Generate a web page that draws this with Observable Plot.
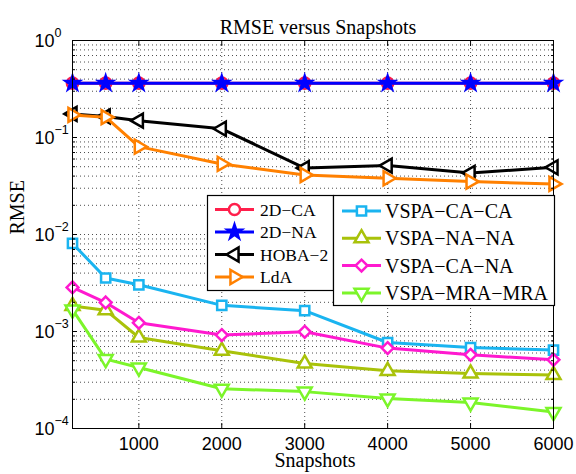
<!DOCTYPE html>
<html>
<head>
<meta charset="utf-8">
<script src="https://cdn.jsdelivr.net/npm/d3@7"></script>
<script src="https://cdn.jsdelivr.net/npm/@observablehq/plot@0.6"></script>
<style>
  html, body { margin: 0; padding: 0; background: #fff; }
  #chart { width: 576px; height: 474px; }
</style>
</head>
<body>
<div id="chart"></div>
<script>
// Number of snapshots used for each estimate
const snapshots = [200, 600, 1000, 2000, 3000, 4000, 5000, 6000];

// RMSE of each estimator
const rmse2DCA       = [0.363, 0.363, 0.363, 0.363, 0.363, 0.363, 0.363, 0.363];
const rmse2DNA       = [0.363, 0.363, 0.363, 0.363, 0.363, 0.363, 0.363, 0.363];
const rmseHOBA2      = [0.175, 0.165, 0.149, 0.123, 0.0484, 0.0513, 0.0431, 0.0493];
const rmseLdA        = [0.171, 0.162, 0.0805, 0.0534, 0.0411, 0.0380, 0.0351, 0.0332];
const rmseVspaCaCa   = [0.00809, 0.00356, 0.00303, 0.00186, 0.00164, 0.00077, 0.000684, 0.000643];
const rmseVspaNaNa   = [0.00183, 0.00166, 0.000867, 0.000632, 0.000468, 0.000393, 0.000369, 0.000357];
const rmseVspaCaNa   = [0.00285, 0.00199, 0.00123, 0.000918, 0.000993, 0.000674, 0.000575, 0.000510];
const rmseVspaMraMra = [0.00168, 0.000519, 0.000425, 0.000257, 0.000240, 0.000204, 0.000185, 0.000148];

const seriesNames  = ["2D−CA", "2D−NA", "HOBA−2", "LdA", "VSPA−CA−CA", "VSPA−NA−NA", "VSPA−CA−NA", "VSPA−MRA−MRA"];
const seriesValues = [rmse2DCA, rmse2DNA, rmseHOBA2, rmseLdA, rmseVspaCaCa, rmseVspaNaNa, rmseVspaCaNa, rmseVspaMraMra];
const seriesColors = ["#ff1f4b", "#0000ff", "#000000", "#ff8000", "#1ab4f0", "#a9c20a", "#ff19cf", "#7cf52a"];
const seriesSymbols = ["circle", "star", "triangle", "triangle", "square", "triangle", "diamond2", "triangle"];
const seriesRotate = [0, 0, -90, 90, 0, 0, 0, 180];

// Axis ticks
const xTicks = [1000, 2000, 3000, 4000, 5000, 6000];
const yDecades = [-4, -3, -2, -1, 0];

const titleText = "RMSE versus Snapshots";
const xLabel = "Snapshots";
const yLabel = "RMSE";

// ---- layout ----
const W = 576, H = 474;
const mL = 72, mR = 23, mT = 40, mB = 46;
const serif = "'Liberation Serif', 'Times New Roman', serif";
const sans = "'Liberation Sans', Arial, Helvetica, sans-serif";
const markerR = {circle: 5.6, star: 4.4, triangle: 5.2, square: 5.2, diamond2: 5.3};

const series = seriesNames.map((name, i) => ({
  name, values: seriesValues[i], color: seriesColors[i],
  symbol: seriesSymbols[i], rotate: seriesRotate[i],
  fill: seriesSymbols[i] === "star" ? seriesColors[i] : "white"
}));

const rows = series.flatMap(s => snapshots.map((x, i) => ({series: s.name, x, y: s.values[i]})));

const yMajor = yDecades.map(e => Math.pow(10, e));
const yMinor = yMajor.slice(0, -1).flatMap(p => [2, 3, 4, 5, 6, 7, 8, 9].map(k => k * p));

const gridStyle = {stroke: "#000", strokeOpacity: 0.7, strokeWidth: 1, strokeDasharray: "1,3"};
const blank = () => "";

const marks = [
  Plot.gridX(xTicks, gridStyle),
  Plot.gridY([...yMinor, ...yMajor.slice(1, -1)], gridStyle)
];

for (const s of series) {
  const data = rows.filter(d => d.series === s.name);
  marks.push(Plot.line(data, {x: "x", y: "y", stroke: s.color, strokeWidth: 3, strokeLinejoin: "round"}));
  marks.push(Plot.dot(data, {
    x: "x", y: "y", symbol: () => s.symbol, r: markerR[s.symbol], rotate: s.rotate,
    stroke: s.color, strokeWidth: 2.5, fill: s.fill
  }));
}

marks.push(
  Plot.frame({stroke: "#000", strokeWidth: 1}),
  // inward ticks on all four sides
  Plot.axisX(xTicks, {anchor: "bottom", tickSize: -5, tickFormat: blank, label: null}),
  Plot.axisX(xTicks, {anchor: "top", tickSize: -5, tickFormat: blank, label: null}),
  Plot.axisY(yMajor, {anchor: "left", tickSize: -5, tickFormat: blank, label: null}),
  Plot.axisY(yMajor, {anchor: "right", tickSize: -5, tickFormat: blank, label: null}),
  Plot.axisY(yMinor, {anchor: "left", tickSize: -3, tickFormat: blank, label: null}),
  Plot.axisY(yMinor, {anchor: "right", tickSize: -3, tickFormat: blank, label: null}),
  // tick labels
  Plot.text(xTicks, {x: d => d, frameAnchor: "bottom", dy: 9, lineAnchor: "top", text: d => String(d),
    fontFamily: sans, fontSize: 18, fill: "#000"}),
  Plot.text(yMajor, {y: d => d, frameAnchor: "left", dx: -18, dy: 1, textAnchor: "end", text: () => "10",
    fontFamily: sans, fontSize: 18, fill: "#000"}),
  Plot.text(yDecades, {y: e => Math.pow(10, e), frameAnchor: "left", dx: -18, dy: -8, textAnchor: "start",
    text: e => (e < 0 ? "−" + Math.abs(e) : String(e)), fontFamily: sans, fontSize: 12.5, fill: "#000"}),
  // title and axis labels
  Plot.text([titleText], {frameAnchor: "top", dx: 5, dy: -21, text: d => d, fontFamily: serif, fontSize: 20, fill: "#000"}),
  Plot.text([xLabel], {frameAnchor: "bottom", dx: 2, dy: 38, text: d => d, fontFamily: serif, fontSize: 20, fill: "#000"}),
  Plot.text([yLabel], {frameAnchor: "left", dx: -55, dy: 0, rotate: -90, text: d => d, fontFamily: serif, fontSize: 20, fill: "#000"})
);

const chart = Plot.plot({
  width: W, height: H,
  marginLeft: mL, marginRight: mR, marginTop: mT, marginBottom: mB,
  style: {background: "#fff", color: "#000", fontFamily: sans},
  x: {type: "linear", domain: [200, 6000]},
  y: {type: "log", domain: [1e-4, 1]},
  marks
});

// ---- legends (two boxed groups) ----
const symbolTypes = {
  circle: d3.symbolCircle, star: d3.symbolStar, triangle: d3.symbolTriangle,
  square: d3.symbolSquare, diamond2: d3.symbolDiamond2
};
const legendGroups = [
  {items: series.slice(0, 4), box: [207, 195, 333, 290], y0: 209.5, step: 22.5, lineX: [215, 254], textX: 260, fontSize: 17.5},
  {items: series.slice(4), box: [333, 195, 554, 305], y0: 211, step: 27.3, lineX: [342, 381], textX: 385, fontSize: 20}
];
const svg = d3.select(chart);
for (const g of legendGroups) {
  const lg = svg.append("g").attr("text-anchor", "start");
  const [x1, y1, x2, y2] = g.box;
  lg.append("rect").attr("x", x1 + 0.5).attr("y", y1 + 0.5).attr("width", x2 - x1).attr("height", y2 - y1)
    .attr("fill", "#fff").attr("stroke", "#000").attr("stroke-width", 1.2);
  g.items.forEach((s, i) => {
    const cy = g.y0 + i * g.step;
    const cx = (g.lineX[0] + g.lineX[1]) / 2;
    lg.append("line").attr("x1", g.lineX[0]).attr("x2", g.lineX[1]).attr("y1", cy).attr("y2", cy)
      .attr("stroke", s.color).attr("stroke-width", 3);
    const r = markerR[s.symbol];
    lg.append("path")
      .attr("d", d3.symbol(symbolTypes[s.symbol], Math.PI * r * r)())
      .attr("transform", `translate(${cx},${cy}) rotate(${s.rotate})`)
      .attr("fill", s.fill).attr("stroke", s.color).attr("stroke-width", 2.5);
    lg.append("text").attr("x", g.textX).attr("y", cy).attr("dy", "0.35em")
      .style("text-anchor", "start")
      .style("font-family", serif).style("font-size", g.fontSize + "px").attr("fill", "#000")
      .text(s.name);
  });
}

document.getElementById("chart").appendChild(chart);
</script>
</body>
</html>
